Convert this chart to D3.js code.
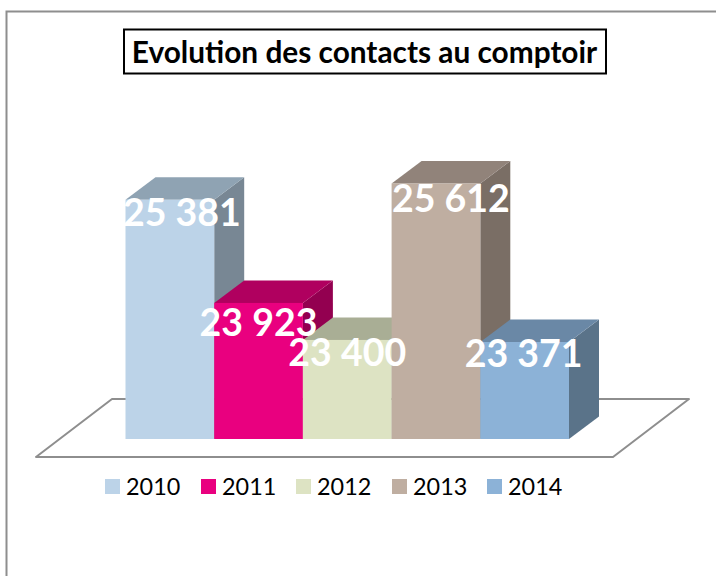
<!DOCTYPE html>
<html><head><meta charset="utf-8">
<script src="https://cdnjs.cloudflare.com/ajax/libs/d3/7.8.5/d3.min.js"></script>
<style>html,body{margin:0;padding:0;background:#fff;overflow:hidden}svg{display:block}text{font-family:Lato,"Open Sans",sans-serif}</style>
</head><body><svg id="c" width="716" height="576"></svg>
<script>
const titleText = "Evolution des contacts au comptoir";
const years = ["2010","2011","2012","2013","2014"];
const contacts = [25381,23923,23400,25612,23371];
const labels = ["25 381","23 923","23 400","25 612","23 371"];
const frontColors = ["#bcd3e8","#e9007f","#dde3c3","#bfaea1","#8cb2d7"];
const topColors = ["#8fa3b3","#b0005f","#a9ae95","#91837a","#6a88a6"];
const sideColors = ["#788794","#930050","#a9ae95","#7a6e65","#5a7389"];

const svg = d3.select("#c");
const x = d3.scaleBand().domain(years).range([125.5,569]).padding(0);
const y = d3.scaleLinear().domain([22000,26000]).range([439,156]);
const dx = 30, dy = -22.5;
const line = d3.line();
const labelShiftX = [12,0,0,15,-1];
const labelShiftY = [26,33,26,29,25];

svg.append("path").attr("d", line([[6.5,576],[6.5,11.5],[716,11.5]]))
  .attr("fill","none").attr("stroke","#8e8e8e").attr("stroke-width",2);

svg.append("path").attr("d", line([[36,457],[613,457],[689,399],[112,399]])+"Z")
  .attr("fill","#fff").attr("stroke","#8e8e8e").attr("stroke-width",2).attr("stroke-linejoin","round");

const bars = svg.append("g").selectAll("g").data(years).join("g");
bars.each(function(yr,i){
  const g = d3.select(this), x0 = x(yr), x1 = x0 + x.bandwidth(), t = y(contacts[i]), b = y.range()[0];
  g.append("path").attr("d", line([[x1,t],[x1+dx,t+dy],[x1+dx,b+dy],[x1,b]])+"Z").attr("fill",sideColors[i]);
  g.append("path").attr("d", line([[x0,t],[x0+dx,t+dy],[x1+dx,t+dy],[x1,t]])+"Z").attr("fill",topColors[i]);
  g.append("rect").attr("x",x0).attr("y",t).attr("width",x.bandwidth()).attr("height",b-t).attr("fill",frontColors[i]);
});

svg.append("g").selectAll("text").data(years).join("text")
  .attr("x",(d,i)=>x(d)+x.bandwidth()/2+labelShiftX[i])
  .attr("y",(d,i)=>y(contacts[i])+labelShiftY[i])
  .attr("text-anchor","middle").attr("font-size",37.5).attr("font-weight",700).attr("fill","#fff")
  .text((d,i)=>labels[i]);

svg.append("rect").attr("x",124).attr("y",29.5).attr("width",482).attr("height",44)
  .attr("fill","#fff").attr("stroke","#000").attr("stroke-width",2);
svg.append("text").attr("x",364.5).attr("y",63).attr("text-anchor","middle")
  .attr("font-size",29.8).attr("font-weight",700).attr("fill","#000").text(titleText);

const legendX = d3.scaleOrdinal().domain(years).range([105,201,296,392,487]);
const lg = svg.append("g").selectAll("g").data(years).join("g");
lg.append("rect").attr("x",d=>legendX(d)).attr("y",479).attr("width",15).attr("height",15)
  .attr("fill",(d,i)=>frontColors[i]);
lg.append("text").attr("x",d=>legendX(d)+21).attr("y",495)
  .attr("font-size",23.4).attr("fill","#000").text(d=>d);
</script></body></html>
